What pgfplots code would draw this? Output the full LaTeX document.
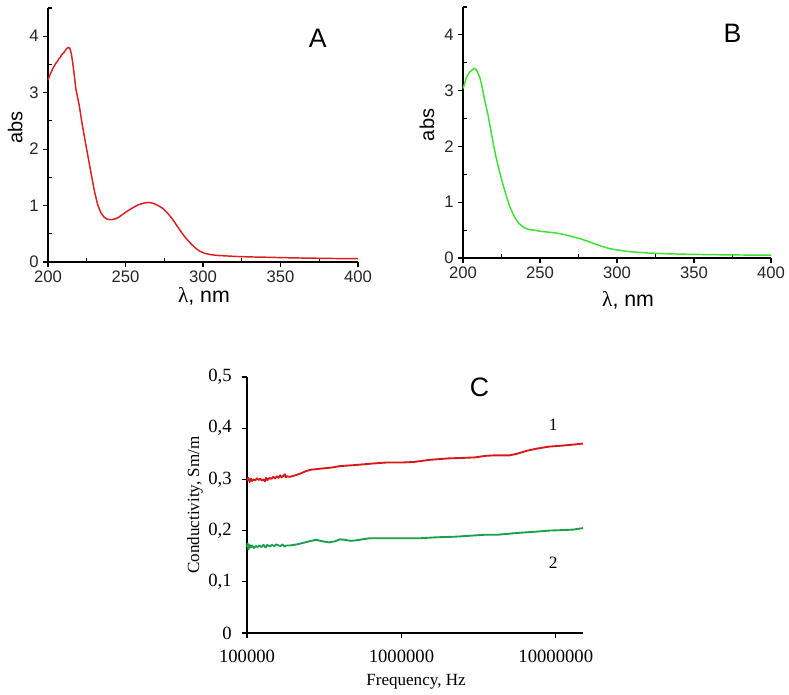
\documentclass[border=0pt]{standalone}
\usepackage{pgfplots}
\pgfplotsset{compat=1.18}
\usepackage{fontspec}
\setmainfont{Liberation Sans}
\newfontfamily\seriffont{Liberation Serif}

\definecolor{redA}{RGB}{222,30,30}
\definecolor{greenB}{RGB}{60,225,50}
\definecolor{redC}{RGB}{215,25,25}
\definecolor{greenC}{RGB}{25,160,75}

\pgfplotsset{
  spec/.style={
    scale only axis,
    axis lines=left,
    axis line style={-, line width=0.9pt},
    tick align=inside,
    major tick length=4pt,
    minor tick length=3pt,
    tick style={line width=0.8pt, black},
    major x tick style={yshift=-4pt},
    major y tick style={xshift=-4pt},
    xmin=200, xmax=400, ymin=0, ymax=4.5,
    xtick={200,250,300,350,400},
    minor xtick={225,275,325,375},
    ytick={0,1,2,3,4},
    minor ytick={0.5,1.5,2.5,3.5,4.5},
    /pgf/number format/assume math mode=true,
    ticklabel style={font=\fontsize{12.5}{14}\selectfont, text=black!85},
    xticklabel style={yshift=-3pt},
    yticklabel style={xshift=-3.5pt},
    xlabel style={font=\fontsize{16}{18}\selectfont},
    ylabel style={font=\fontsize{15}{17}\selectfont},
    xlabel={{\seriffont λ}, nm},
    ylabel={abs},
    clip=false,
  }
}

\begin{document}
\begin{tikzpicture}
\path[use as bounding box] (0,0) rectangle (591.75pt,520.5pt);

% panel A
\begin{axis}[spec,
  at={(36pt,324pt)}, anchor=south west,
  width=232.5pt, height=190.5pt,
  xlabel style={at={(axis description cs:0.503,-0.135)}, anchor=center},
  ylabel style={at={(axis description cs:-0.106,0.53)}, anchor=center},
]
\addplot[redA, line width=1.1pt, line join=round, no marks] coordinates {
(200,3.22)(201,3.30)(202,3.36)(203,3.42)(204,3.47)(205,3.52)(206,3.55)(207,3.60)
(208,3.63)(209,3.68)(210,3.70)(211,3.74)(212,3.78)(213,3.80)(214,3.79)(215,3.70)
(216,3.52)(217,3.30)(218,3.06)(220,2.80)(222,2.45)(224,2.14)(226,1.84)(228,1.54)
(230,1.25)(232,1.02)(234,0.88)(236,0.80)(238,0.76)(240,0.75)(242,0.755)(244,0.77)
(246,0.80)(248,0.84)(250,0.88)(254,0.95)(258,1.01)(262,1.045)(265,1.055)(268,1.04)
(271,1.00)(274,0.95)(277,0.87)(280,0.77)(283,0.65)(286,0.53)(289,0.42)(292,0.33)
(295,0.25)(298,0.19)(301,0.155)(305,0.13)(310,0.115)(320,0.10)(330,0.09)(340,0.085)
(350,0.078)(360,0.072)(370,0.068)(380,0.064)(390,0.06)(400,0.058)
};
\node[font=\fontsize{20}{22}\selectfont] at (axis cs:374,3.97) {A};
\end{axis}

% panel B
\begin{axis}[spec,
  at={(347.25pt,327pt)}, anchor=south west,
  width=231pt, height=188.25pt,
  xlabel style={at={(axis description cs:0.536,-0.168)}, anchor=center},
  ylabel style={at={(axis description cs:-0.117,0.53)}, anchor=center},
]
\addplot[greenB, line width=1.1pt, line join=round, no marks] coordinates {
(200,3.04)(201,3.12)(202,3.22)(203,3.28)(204,3.32)(205,3.35)(206,3.37)(207,3.40)
(208,3.39)(209,3.36)(210,3.30)(211,3.23)(212,3.12)(213,2.98)(214,2.84)(216,2.60)
(218,2.30)(220,2.00)(222,1.74)(224,1.52)(226,1.31)(228,1.13)(230,0.95)(232,0.82)
(234,0.71)(236,0.63)(238,0.58)(240,0.54)(243,0.51)(246,0.50)(250,0.48)(255,0.465)
(260,0.45)(265,0.425)(270,0.39)(275,0.355)(280,0.31)(285,0.26)(290,0.21)(295,0.17)
(300,0.145)(305,0.125)(310,0.11)(320,0.09)(330,0.078)(340,0.07)(350,0.065)(360,0.06)
(370,0.057)(380,0.054)(390,0.052)(400,0.05)
};
\node[font=\fontsize{20}{22}\selectfont] at (axis cs:375,4.02) {B};
\end{axis}

% panel C
\begin{axis}[
  scale only axis,
  at={(185.25pt,45.75pt)}, anchor=south west,
  width=252pt, height=192pt,
  xmode=log,
  axis lines=left,
  axis line style={-, line width=0.9pt},
  tick align=outside,
  major tick length=4pt,
  tick style={line width=0.8pt, black},
  xmin=1e5, xmax=1.5e7, ymin=0, ymax=0.5,
  xtick={1e5,1e6,1e7},
  xticklabels={100000,1000000,10000000},
  minor x tick style={draw=none},
  ytick={0,0.1,0.2,0.3,0.4,0.5},
  /pgf/number format/assume math mode=true,
  /pgf/number format/use comma,
  /pgf/number format/fixed,
  ticklabel style={font=\seriffont\fontsize{14}{16}\selectfont},
  xticklabel style={yshift=-5pt},
  yticklabel style={xshift=-4pt},
  label style={font=\seriffont\fontsize{12.8}{15}\selectfont},
  xlabel={Frequency, Hz},
  ylabel={Conductivity, Sm/m},
  xlabel style={at={(axis description cs:0.503,-0.19)}, anchor=center},
  ylabel style={at={(axis description cs:-0.155,0.5)}, anchor=center},
  clip=false,
]
\addplot[redC, line width=1.4pt, line join=round, no marks] coordinates {
(100000,0.298)(102000,0.303)(104000,0.295)(106000,0.301)(108000,0.297)(110000,0.300)
(113000,0.298)(116000,0.302)(119000,0.299)(122000,0.301)(125000,0.298)(128000,0.300)
(131000,0.296)(133000,0.303)(136000,0.299)(140000,0.303)(144000,0.301)(148000,0.305)
(152000,0.302)(156000,0.306)(160000,0.303)(164000,0.308)(168000,0.304)(172000,0.307)
(176000,0.310)(178000,0.304)(182000,0.306)(190000,0.305)(200000,0.307)(220000,0.311)
(240000,0.316)(260000,0.319)(300000,0.321)(350000,0.323)(400000,0.326)(500000,0.328)
(650000,0.331)(800000,0.333)(1000000,0.333)(1200000,0.334)(1500000,0.338)(2000000,0.341)
(2500000,0.342)(3000000,0.343)(3500000,0.346)(4000000,0.347)(5000000,0.347)(5600000,0.350)
(6500000,0.356)(7500000,0.360)(9000000,0.364)(11000000,0.366)(13000000,0.368)(15000000,0.370)
};
\addplot[greenC, line width=1.4pt, line join=round, no marks] coordinates {
(100000,0.168)(101000,0.175)(102000,0.163)(104000,0.172)(106000,0.167)(108000,0.171)
(111000,0.166)(114000,0.170)(117000,0.168)(120000,0.171)(124000,0.168)(128000,0.172)
(132000,0.167)(135000,0.172)(140000,0.169)(145000,0.172)(150000,0.170)(155000,0.173)
(160000,0.171)(165000,0.170)(170000,0.173)(175000,0.169)(180000,0.171)(190000,0.171)
(210000,0.173)(230000,0.176)(260000,0.180)(280000,0.182)(310000,0.179)(340000,0.177)
(370000,0.179)(400000,0.183)(430000,0.182)(470000,0.180)(510000,0.181)(560000,0.183)
(620000,0.185)(800000,0.185)(1000000,0.185)(1300000,0.185)(1700000,0.187)(2200000,0.188)
(2800000,0.190)(3500000,0.192)(4200000,0.192)(5000000,0.194)(6000000,0.196)(7500000,0.198)
(9000000,0.200)(11000000,0.201)(13000000,0.202)(15000000,0.205)
};
\node[font=\seriffont\fontsize{13}{15}\selectfont] at (axis cs:9.6e6,0.406) {1};
\node[font=\seriffont\fontsize{13}{15}\selectfont] at (axis cs:9.6e6,0.137) {2};
\node[font=\fontsize{20}{22}\selectfont] at (axis cs:3.2e6,0.48) {C};
\end{axis}
\end{tikzpicture}
\end{document}
